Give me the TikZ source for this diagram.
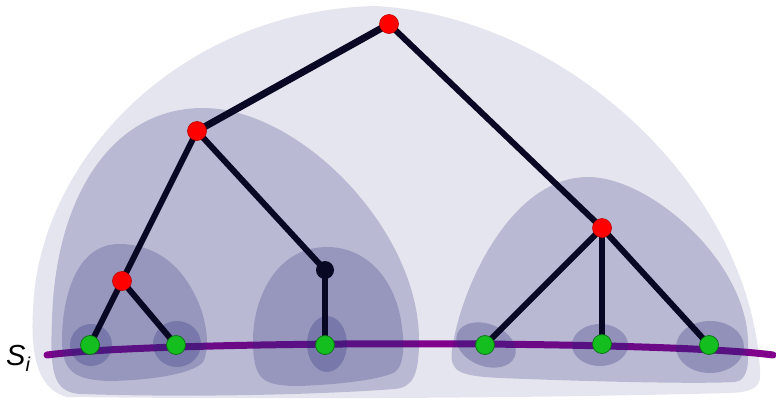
\documentclass[tikz,border=0pt]{standalone}
\usepackage{fontspec}
\setmainfont{Liberation Sans}
\begin{document}
\begin{tikzpicture}[x=1pt,y=-1pt,
  blob/.style={fill={rgb,255:red,40;green,40;blue,120}, fill opacity=0.23},
  outerblob/.style={fill={rgb,255:red,40;green,40;blue,120}, fill opacity=0.12},
  leafblob/.style={fill={rgb,255:red,40;green,40;blue,120}, fill opacity=0.28},
  edge/.style={line width=6pt, draw={rgb,255:red,8;green,8;blue,36}},
  rednode/.style={circle, minimum size=19pt, inner sep=0pt, fill=red, draw={rgb,255:red,190;green,0;blue,0}, line width=0.6pt},
  greennode/.style={circle, minimum size=19pt, inner sep=0pt, fill={rgb,255:red,20;green,190;blue,30}, draw={rgb,255:red,10;green,110;blue,20}, line width=0.7pt},
  darknode/.style={circle, minimum size=18pt, inner sep=0pt, fill={rgb,255:red,8;green,8;blue,36}},
  sline/.style={line width=7pt, line cap=round, draw={rgb,255:red,128;green,0;blue,140}}]
\useasboundingbox (0,0) rectangle (776,399);

% outermost region
\path[outerblob] (67,397) .. controls (40,390) and (30,360) .. (33,310)
  .. controls (38,160) and (180,10) .. (376,6)
  .. controls (570,18) and (750,190) .. (760,370)
  .. controls (762,388) and (752,392) .. (730,393)
  .. controls (500,399) and (250,399) .. cycle;

% the curve S_i
\coordinate (sl) at (47,355);
\coordinate (sr) at (773,355);
\draw[sline] (sl) .. controls (160,340) and (660,340) .. (sr);

% subtree regions
\path[blob] (203,108) .. controls (110,108) and (55,200) .. (52,320)
  .. controls (50,370) and (52,392) .. (80,394)
  .. controls (200,398) and (330,394) .. (395,389)
  .. controls (413,387) and (419,375) .. (419,340)
  .. controls (419,230) and (300,108) .. cycle;
\path[blob] (588,177) .. controls (510,177) and (460,290) .. (452,350)
  .. controls (449,372) and (460,376) .. (500,378)
  .. controls (600,382) and (700,384) .. (735,382)
  .. controls (748,380) and (749,365) .. (748,340)
  .. controls (745,260) and (650,177) .. cycle;
\path[blob] (119,244) .. controls (75,244) and (62,300) .. (62,340)
  .. controls (62,372) and (75,380) .. (110,381)
  .. controls (160,380) and (195,372) .. (203,362)
  .. controls (210,350) and (208,320) .. (195,295)
  .. controls (175,255) and (145,244) .. cycle;
\path[blob] (327,247) .. controls (275,247) and (253,300) .. (253,340)
  .. controls (253,380) and (262,386) .. (300,386)
  .. controls (350,384) and (385,378) .. (395,372)
  .. controls (405,365) and (405,340) .. (400,315)
  .. controls (390,270) and (360,247) .. cycle;

% leaf regions
\coordinate (e1) at (91,345);
\coordinate (e2) at (177,344);
\coordinate (e3) at (327,344);
\coordinate (e4) at (486,345);
\coordinate (e5) at (600,345);
\coordinate (e6) at (710,347);
\path[leafblob] (e1) ellipse [x radius=21pt, y radius=21pt];
\path[leafblob] (e2) ellipse [x radius=24pt, y radius=23pt];
\path[leafblob] (e3) ellipse [x radius=20pt, y radius=28pt];
\path[leafblob, rotate around={-22:(e4)}] (e4) ellipse [x radius=31pt, y radius=21pt];
\path[leafblob] (e5) ellipse [x radius=28pt, y radius=21pt];
\path[leafblob] (e6) ellipse [x radius=34pt, y radius=26pt];

% tree
\coordinate (r) at (389,24);
\coordinate (a) at (197,131);
\coordinate (b) at (602,228);
\coordinate (c) at (122,281);
\coordinate (d) at (325,270);
\coordinate (l1) at (90,345);
\coordinate (l2) at (176,345);
\coordinate (l3) at (325,345);
\coordinate (l4) at (485,345);
\coordinate (l5) at (602,344);
\coordinate (l6) at (709,345);

\draw[edge, line width=7pt] (r) -- (a);
\draw[edge] (r) -- (b);
\draw[edge] (a) -- (c);
\draw[edge] (a) -- (d);
\draw[edge] (c) -- (l1);
\draw[edge] (c) -- (l2);
\draw[edge] (d) -- (l3);
\draw[edge] (b) -- (l4);
\draw[edge] (b) -- (l5);
\draw[edge] (b) -- (l6);

\node[rednode] (nr) at (r) {};
\node[rednode] (na) at (a) {};
\node[rednode] (nb) at (b) {};
\node[rednode] (nc) at (c) {};
\node[darknode] (nd) at (d) {};
\foreach \i in {1,...,6} { \node[greennode] (n\i) at (l\i) {}; }

\node[inner sep=0pt, anchor=base west] (lab) at (6,365)
  {\fontsize{29}{29}\selectfont\itshape S\raisebox{-6pt}{\fontsize{20}{20}\selectfont i}};
\end{tikzpicture}
\end{document}
